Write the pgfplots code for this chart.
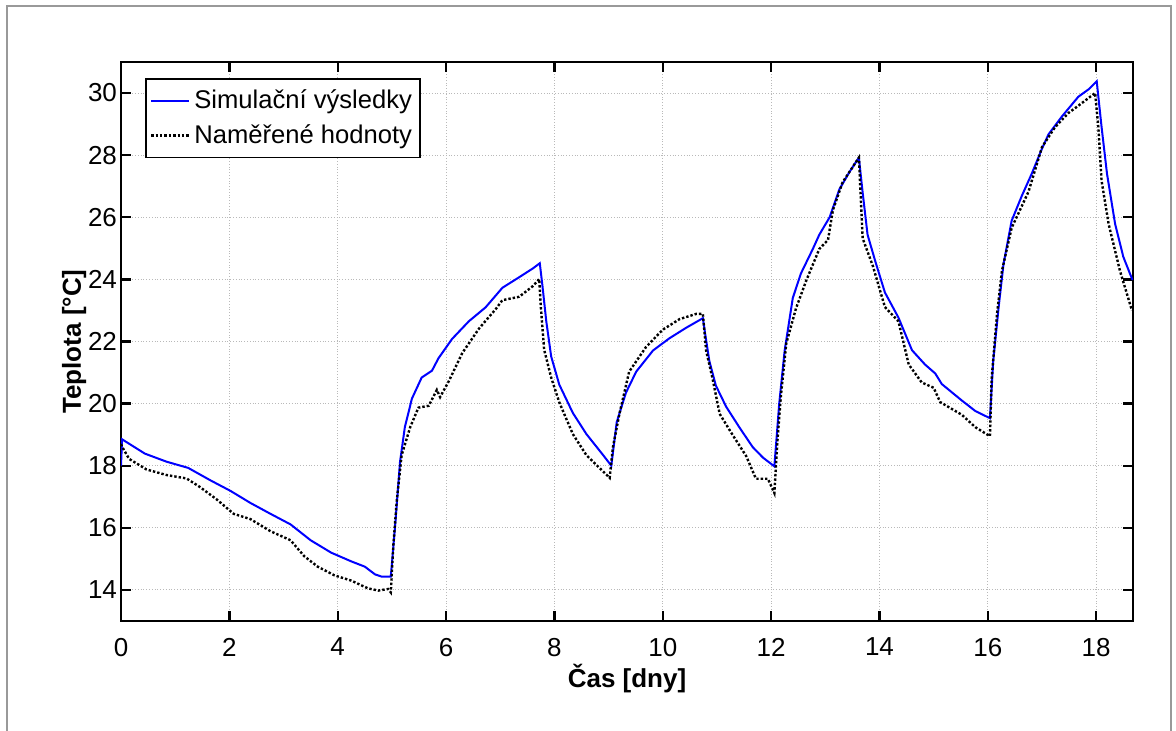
\documentclass[border=0pt]{standalone}
\usepackage{fontspec}
\setmainfont{Liberation Sans}
\usepackage{pgfplots}
\pgfplotsset{compat=1.18}

\begin{document}
\begin{tikzpicture}
\path[use as bounding box] (-60.5pt,-55pt) rectangle (527.5pt,310.5pt);
\draw[gray!80, line width=1pt] (-57pt,-55pt) -- (-57pt,307.5pt) -- (525pt,307.5pt) -- (525pt,-55pt);
\begin{axis}[
    scale only axis,
    width=506pt,
    height=279.5pt,
    xmin=0, xmax=18.68,
    ymin=13, ymax=31,
    xtick={0,2,...,18},
    ytick={14,16,...,30},
    tick align=inside,
    major tick length=5pt,
    axis line style={line width=1.2pt},
    tick style={line width=1.2pt, black},
    xmajorgrids=true, ymajorgrids=true,
    grid style={densely dotted, gray!55, line width=0.5pt},
    font=\fontsize{13}{15}\selectfont,
    ticklabel style={font=\fontsize{13}{15}\selectfont},
    /pgf/number format/assume math mode=true,
    xlabel={\textbf{Čas [dny]}},
    ylabel={\textbf{Teplota [°C]}},
    xlabel style={yshift=3pt},
    ylabel style={yshift=-6pt},
    xticklabel style={yshift=-5pt},
    yticklabel style={xshift=1.5pt},
    legend style={at={(0,1)}, xshift=12pt, yshift=-8pt, anchor=north west,
        draw=black, line width=0.9pt, inner xsep=2pt, inner ysep=3.5pt,
        font=\fontsize{12.8}{15}\selectfont, row sep=2.5pt},
    legend image code/.code={\draw[#1] (0cm,0cm) -- (19pt,0cm);},
    legend cell align=left,
]
\addplot[color=blue, line width=1pt] coordinates {
(0,18.0)(0.02,18.85)(0.44,18.39)(0.84,18.13)(1.24,17.93)(1.65,17.53)(2.02,17.19)(2.39,16.80)(2.76,16.45)(3.13,16.11)(3.50,15.60)(3.88,15.20)(4.25,14.92)(4.50,14.75)(4.69,14.50)(4.81,14.43)(4.98,14.43)
(5.06,16.07)(5.15,18.12)(5.24,19.25)(5.37,20.16)(5.55,20.84)(5.74,21.06)(5.86,21.46)(6.11,22.08)(6.42,22.65)(6.73,23.10)(7.04,23.73)(7.35,24.07)(7.60,24.35)(7.73,24.52)
(7.78,23.78)(7.85,22.65)(7.94,21.52)(8.09,20.61)(8.34,19.70)(8.59,19.02)(8.90,18.34)(9.05,18.00)
(9.15,19.40)(9.32,20.35)(9.51,21.03)(9.82,21.71)(10.12,22.10)(10.43,22.44)(10.74,22.75)
(10.79,22.16)(10.86,21.37)(10.98,20.58)(11.17,19.90)(11.42,19.22)(11.66,18.60)(11.85,18.26)(12.06,17.98)
(12.15,20.01)(12.25,21.71)(12.40,23.40)(12.55,24.19)(12.77,24.98)(12.89,25.44)(13.08,26.00)(13.26,26.90)(13.45,27.47)(13.62,27.92)
(13.69,26.79)(13.78,25.44)(13.92,24.60)(14.10,23.58)(14.35,22.77)(14.60,21.72)(14.84,21.26)(15.03,20.97)(15.15,20.63)(15.52,20.10)(15.77,19.76)(16.04,19.53)
(16.10,21.38)(16.20,23.11)(16.29,24.50)(16.44,25.89)(16.63,26.70)(16.81,27.40)(17.0,28.21)(17.12,28.67)(17.37,29.25)(17.67,29.88)(17.86,30.12)(18.01,30.38)
(18.10,28.90)(18.20,27.40)(18.35,25.78)(18.50,24.73)(18.67,23.98)
};
\addlegendentry{Simulační výsledky}

\addplot[color=black, densely dotted, line width=1.2pt] coordinates {
(0,18.7)(0.02,18.61)(0.15,18.22)(0.47,17.88)(0.84,17.70)(1.21,17.59)(1.46,17.31)(1.77,16.91)(2.08,16.45)(2.39,16.28)(2.76,15.89)(3.13,15.60)(3.38,15.09)(3.63,14.75)(3.94,14.47)(4.25,14.30)(4.56,14.05)(4.75,13.98)(4.93,14.03)(4.98,13.92)
(5.03,15.51)(5.09,16.87)(5.18,18.34)(5.34,19.25)(5.49,19.87)(5.68,19.93)(5.83,20.44)(5.89,20.21)(6.05,20.72)(6.30,21.63)(6.61,22.42)(6.92,23.05)(7.04,23.33)(7.35,23.44)(7.60,23.78)(7.72,24.01)
(7.75,23.10)(7.81,21.74)(7.94,20.84)(8.09,20.04)(8.34,19.02)(8.59,18.34)(9.02,17.61)
(9.08,18.60)(9.2,19.67)(9.38,21.03)(9.69,21.82)(10.0,22.38)(10.31,22.72)(10.62,22.89)(10.74,22.89)
(10.80,21.71)(10.92,20.80)(11.05,19.67)(11.29,18.99)(11.54,18.31)(11.72,17.58)(11.94,17.58)(12.06,17.12)
(12.12,18.88)(12.18,20.24)(12.28,21.94)(12.46,23.07)(12.65,23.97)(12.89,24.98)(13.05,25.27)(13.14,26.23)(13.32,27.13)(13.62,27.92)
(13.69,25.32)(13.88,24.42)(14.10,23.11)(14.35,22.65)(14.54,21.26)(14.78,20.68)(15.0,20.51)(15.12,20.05)(15.52,19.64)(15.77,19.24)(16.04,18.95)
(16.07,20.80)(16.17,22.89)(16.26,24.27)(16.44,25.66)(16.75,26.82)(17.0,28.26)(17.24,28.90)(17.49,29.36)(17.67,29.59)(17.98,30.00)
(18.04,28.90)(18.10,27.17)(18.23,25.78)(18.44,24.27)(18.66,23.00)
};
\addlegendentry{Naměřené hodnoty}
\end{axis}
\end{tikzpicture}
\end{document}
